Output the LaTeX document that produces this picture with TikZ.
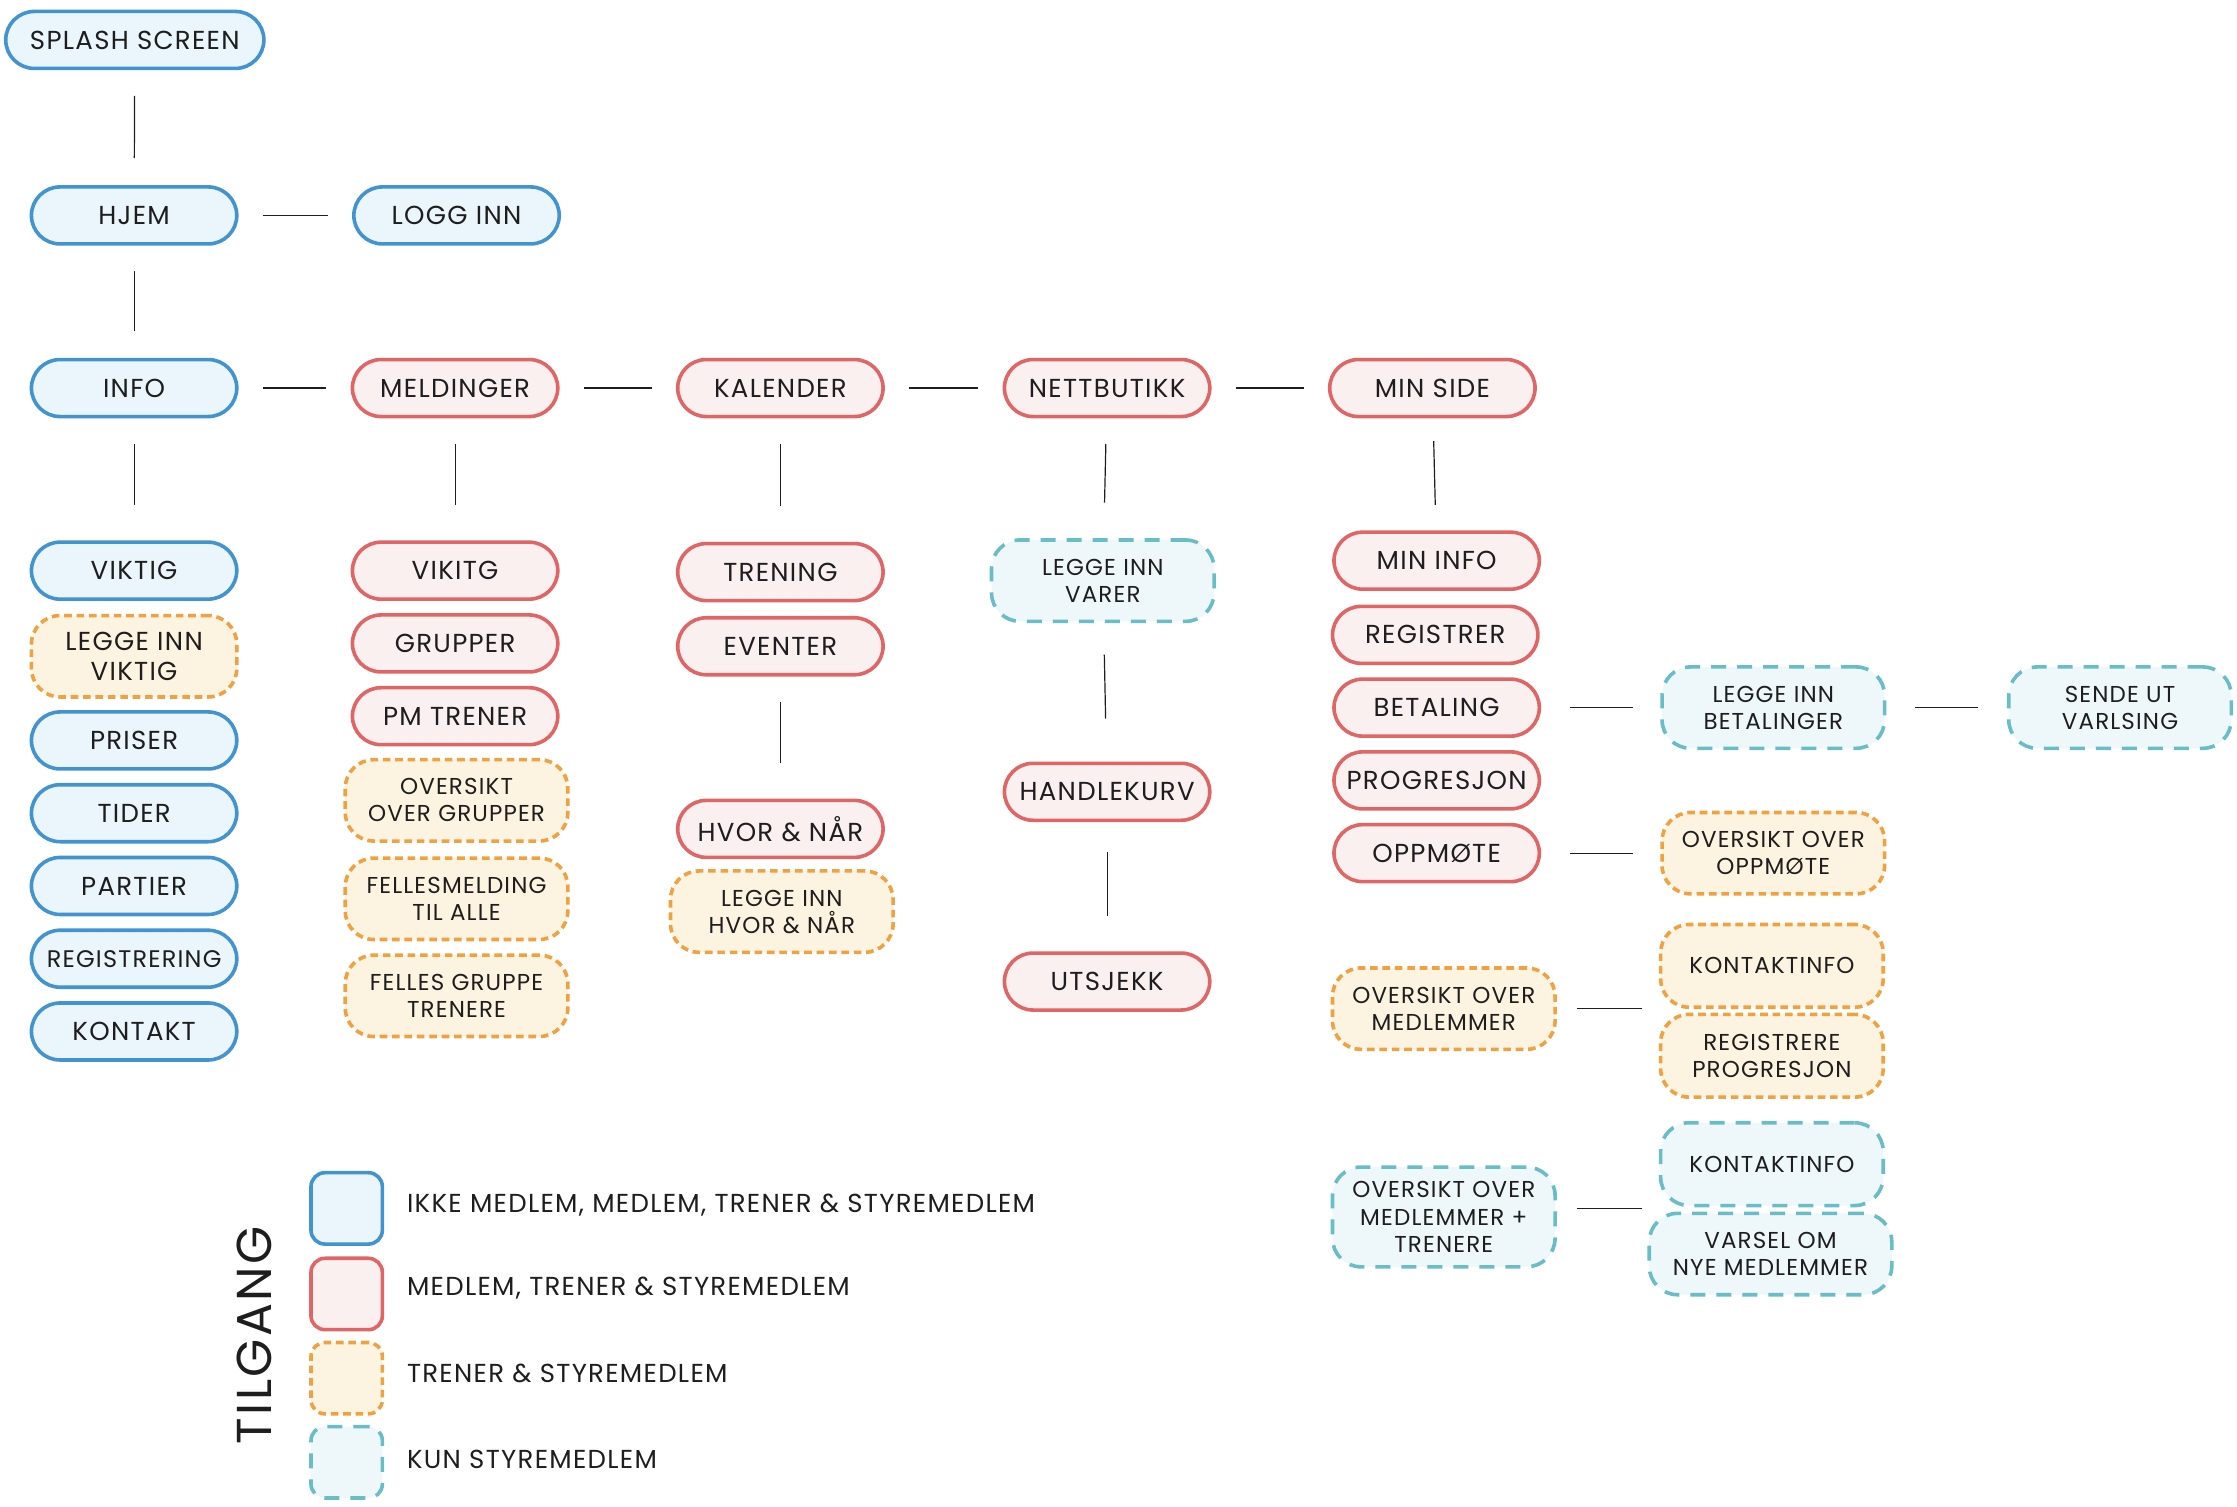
\documentclass[tikz,border=0pt]{standalone}
\usepackage{fontspec}
\setmainfont{Poppins}[LetterSpace=5]
\definecolor{bluel}{HTML}{4194CF}
\definecolor{bluef}{HTML}{EAF5FC}
\definecolor{redl}{HTML}{E06565}
\definecolor{redf}{HTML}{FBF0F0}
\definecolor{orl}{HTML}{F0A140}
\definecolor{orf}{HTML}{FCF3E0}
\definecolor{tel}{HTML}{68BDC7}
\definecolor{tef}{HTML}{EEF7FA}
\definecolor{txt}{HTML}{1E1E1E}
\tikzset{
  nb/.style={rounded corners=14.3pt, minimum width=102.7pt, minimum height=28.5pt,
    inner sep=0pt, align=center, line width=1.8pt, text=txt,
    font=\fontsize{13}{15}\selectfont},
  accblue/.style={nb, draw=bluel, fill=bluef},
  accred/.style={nb, draw=redl, fill=redf},
  accor/.style={nb, draw=orl, fill=orf, dash pattern=on 3.8pt off 2.4pt,
    minimum width=111.3pt, minimum height=40.7pt,
    font=\fontsize{11.5}{13.6}\selectfont},
  accteal/.style={nb, draw=tel, fill=tef, dash pattern=on 7.5pt off 5.5pt,
    minimum width=111.3pt, minimum height=40.7pt,
    font=\fontsize{11.5}{13.6}\selectfont},
  conn/.style={line width=0.6pt, draw=txt},
  hc/.style={conn, shorten <=12.1pt, shorten >=12.1pt},
  vc/.style={conn, shorten <=12.8pt, shorten >=13.5pt},
  vcc/.style={conn, shorten <=12.8pt, shorten >=17.8pt},
  legsq/.style={minimum width=35.7pt, minimum height=35.7pt, rounded corners=7pt,
    line width=1.8pt, inner sep=0pt},
  legtxt/.style={anchor=west, text=txt, font=\fontsize{13}{15}\selectfont, inner sep=0pt}
}
\begin{document}
\begin{tikzpicture}[x=0.71335pt, y=-0.71335pt]
\useasboundingbox (0,0) rectangle (1568,1056);

% top rows
\node[accblue, minimum width=129.1pt] (splash) at (94.5,28) {SPLASH SCREEN};
\node[accblue] (hjem) at (94,151) {HJEM};
\node[accblue] (logg) at (320,151) {LOGG INN};
\node[accblue] (info) at (94,272) {INFO};
\node[accred] (meld) at (319,272) {MELDINGER};
\node[accred] (kal) at (547,272) {KALENDER};
\node[accred] (nett) at (776,272) {NETTBUTIKK};
\node[accred] (minside) at (1004,272) {MIN SIDE};

% column 1
\node[accblue] (viktig) at (94,400) {VIKTIG};
\node[accor, minimum width=102.7pt, font=\fontsize{13}{15}\selectfont] (leggeviktig) at (94,460) {LEGGE INN\\VIKTIG};
\node[accblue] (priser) at (94,519) {PRISER};
\node[accblue] (tider) at (94,570) {TIDER};
\node[accblue] (partier) at (94,621) {PARTIER};
\node[accblue, font=\fontsize{12}{14}\selectfont] (regis) at (94,672) {REGISTRERING};
\node[accblue] (kontakt) at (94,723) {KONTAKT};

% column 2
\node[accred] (vikitg) at (319,400) {VIKITG};
\node[accred] (grupper) at (319,451) {GRUPPER};
\node[accred] (pm) at (319,502) {PM TRENER};
\node[accor] (ovgr) at (320,561) {OVERSIKT\\OVER GRUPPER};
\node[accor] (felles) at (320,630) {FELLESMELDING\\TIL ALLE};
\node[accor] (fellesgr) at (320,698) {FELLES GRUPPE\\TRENERE};

% column 3
\node[accred] (trening) at (547,401) {TRENING};
\node[accred] (eventer) at (547,453) {EVENTER};
\node[accred] (hvor) at (547,581) {HVOR \& NÅR};
\node[accor] (leggehvor) at (548,639) {LEGGE INN\\HVOR \& NÅR};

% column 4
\node[accteal] (varer) at (773,407) {LEGGE INN\\VARER};
\node[accred] (handle) at (776,555) {HANDLEKURV};
\node[accred] (utsjekk) at (776,688) {UTSJEKK};

% column 5
\node[accred] (mininfo) at (1007,393) {MIN INFO};
\node[accred] (registrer) at (1006,445) {REGISTRER};
\node[accred] (betaling) at (1007,496) {BETALING};
\node[accred] (progresjon) at (1007,547) {PROGRESJON};
\node[accred] (oppmote) at (1007,598) {OPPMØTE};
\node[accteal] (betalinger) at (1243,496) {LEGGE INN\\BETALINGER};
\node[accteal] (sende) at (1486,496) {SENDE UT\\VARLSING};
\node[accor] (ovoppm) at (1243,598) {OVERSIKT OVER\\OPPMØTE};
\node[accor] (ovmed) at (1012,707) {OVERSIKT OVER\\MEDLEMMER};
\node[accor, minimum height=41.4pt] (kinfo1) at (1242,677) {KONTAKTINFO};
\node[accor, minimum height=41.4pt] (regprog) at (1242,740) {REGISTRERE\\PROGRESJON};
\node[accteal, minimum height=49.9pt] (ovmedtr) at (1012,853) {OVERSIKT OVER\\MEDLEMMER +\\TRENERE};
\node[accteal, minimum height=41.4pt] (kinfo2) at (1242,816) {KONTAKTINFO};
\node[accteal, minimum width=121.3pt] (varsel) at (1241,879) {VARSEL OM\\NYE MEDLEMMER};
\coordinate (c1) at (1151,707);
\coordinate (c2) at (1151,847);

% connectors
\draw[vc] (splash) -- (hjem);
\draw[hc] (hjem) -- (logg);
\draw[vc] (hjem) -- (info);
\draw[hc] (info) -- (meld);
\draw[hc] (meld) -- (kal);
\draw[hc] (kal) -- (nett);
\draw[hc] (nett) -- (minside);
\draw[vcc] (info) -- (viktig);
\draw[vcc] (meld) -- (vikitg);
\draw[vcc] (kal) -- (trening);
\draw[vcc] (eventer) -- (hvor);
\draw[vcc] (nett) -- (varer);
\draw[conn, shorten <=15.7pt, shorten >=21.4pt] (varer) -- (handle);
\draw[conn, shorten <=15pt, shorten >=17.8pt] (handle) -- (utsjekk);
\draw[conn, shorten <=11.4pt, shorten >=12.8pt] (minside) -- (mininfo);
\draw[conn, shorten <=14.3pt, shorten >=13.6pt] (betaling) -- (betalinger);
\draw[conn, shorten <=14.3pt, shorten >=14.3pt] (betalinger) -- (sende);
\draw[conn, shorten <=14.3pt, shorten >=13.6pt] (oppmote) -- (ovoppm);
\draw[conn, shorten <=10pt] (ovmed) -- (c1);
\draw[conn, shorten <=10pt] (ovmedtr.east |- c2) -- (c2);

% legend
\node[legsq, draw=bluel, fill=bluef] (lg1) at (243,847) {};
\node[legsq, draw=redl, fill=redf] (lg2) at (243,907) {};
\node[legsq, draw=orl, fill=orf, dash pattern=on 3.8pt off 2.4pt] (lg3) at (243,966) {};
\node[legsq, draw=tel, fill=tef, dash pattern=on 7.5pt off 5.5pt] (lg4) at (243,1025) {};
\node[legtxt] (lt1) at (285,845) {IKKE MEDLEM, MEDLEM, TRENER \& STYREMEDLEM};
\node[legtxt] (lt2) at (285,903) {MEDLEM, TRENER \& STYREMEDLEM};
\node[legtxt] (lt3) at (285,963) {TRENER \& STYREMEDLEM};
\node[legtxt] (lt4) at (285,1023) {KUN STYREMEDLEM};
\node[rotate=90, text=txt, font=\fontsize{24.5}{28}\selectfont, inner sep=0pt] (tilgang) at (178,936) {TILGANG};
\end{tikzpicture}
\end{document}
